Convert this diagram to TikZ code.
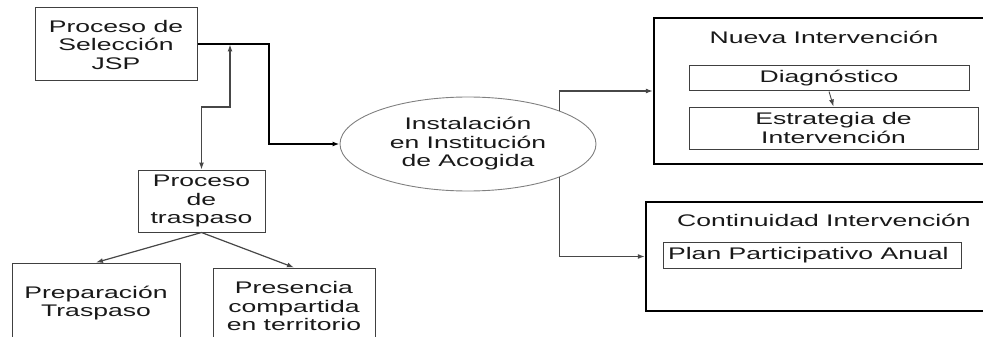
\documentclass[tikz,border=0pt]{standalone}
\usepackage{fontspec}
\setmainfont{Liberation Sans}[FakeStretch=1.58]
\usetikzlibrary{arrows.meta,shapes.geometric}

\begin{document}
\begin{tikzpicture}[x=1pt,y=-1pt,
    >={Latex[length=7pt,width=5pt]},
    font=\fontsize{16.8}{18.5}\selectfont,
    box/.style={draw=black!75,line width=1pt,inner sep=0pt,align=center,text=black!90},
    frame/.style={draw=black,line width=2.4pt,inner sep=0pt},
    link/.style={draw=black!72,line width=1.2pt,->}]
      \useasboundingbox (0,0) rectangle (983,337);
      \clip (0,0) rectangle (983,337);
      \foreach \n/\x/\y/\w/\h/\t in
      { sel/116/44.5/162/73/{Proceso de\\Selección\\JSP},
        trasp/201.5/201/127/62/{Proceso\\de\\traspaso},
        prep/96/303/168/80/{Preparación\\Traspaso},
        pres/294/306/162/76/{Presencia\\compartida\\en territorio},
        diag/829/78.5/280/25/{Diagnóstico},
        estr/833.5/128/289/42/{Estrategia de\\Intervención},
        plan/812/255/298/26/{Plan Participativo Anual}
      }
      \node[box,minimum width=\w,minimum height=\h] (\n) at (\x,\y) {\t};
      \node[frame,minimum width=360,minimum height=146] (nueva) at (834,91) {};
      \node[frame,minimum width=360,minimum height=109] (cont) at (826,256.5) {};
      \node[text=black!90] (nuevatit) at (824,37) {Nueva Intervención};
      \node[text=black!90] (conttit) at (824,220) {Continuidad Intervención};
      \node[ellipse,draw=black!50,line width=0.9pt,inner sep=0pt,align=center,text=black!90,
            minimum width=256,minimum height=94] (ell) at (468,144)
            {Instalación\\en Institución\\de Acogida};
      \coordinate (bend) at (269,44.5);
      \coordinate (joint) at (230,44.5);
      \draw[link,draw=black,line width=2pt] (sel.east) -- (bend) |- (ell.west);
      \draw[link,<->] (joint) -- ++(0,62.5) -| (trasp.north);
      \draw[link] (trasp.south) -- (prep.north);
      \draw[link] (trasp.south) -- (pres.north);
      \draw[link] (ell.20) |- (nueva.west);
      \draw[link] (ell.-20) |- (cont.west);
      \draw[link,line width=0.9pt] (diag.south) -- (estr.north);
    \end{tikzpicture}
\end{document}
